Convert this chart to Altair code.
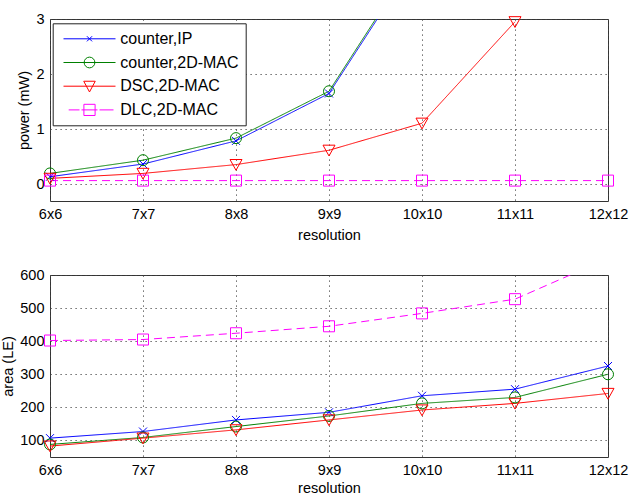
import json
import altair as alt
import pandas as pd

resolutions = ["6x6", "7x7", "8x8", "9x9", "10x10", "11x11", "12x12"]
series = ["counter,IP", "counter,2D-MAC", "DSC,2D-MAC", "DLC,2D-MAC"]
colors = ["#0000ff", "#008000", "#ff0000", "#ff00ff"]

power_counter_ip = [0.14, 0.37, 0.79, 1.65, 4.25, None, None]
power_counter_2dmac = [0.2, 0.44, 0.84, 1.69, 4.3, None, None]
power_dsc_2dmac = [0.11, 0.2, 0.36, 0.62, 1.11, 2.95, None]
power_dlc_2dmac = [0.07, 0.07, 0.07, 0.07, 0.07, 0.07, 0.07]

area_counter_ip = [107, 127, 162, 185, 235, 255, 325]
area_counter_2dmac = [88, 109, 142, 174, 212, 230, 300]
area_dsc_2dmac = [83, 107, 132, 162, 192, 212, 242]
area_dlc_2dmac = [402, 405, 424, 445, 484, 527, 650]

power = [power_counter_ip, power_counter_2dmac, power_dsc_2dmac, power_dlc_2dmac]
area = [area_counter_ip, area_counter_2dmac, area_dsc_2dmac, area_dlc_2dmac]

rows = []
for s, pw, ar in zip(series, power, area):
    for r, p, a in zip(resolutions, pw, ar):
        rows.append({"res": r, "series": s, "name": s, "power": p, "area": a})
df = pd.DataFrame(rows)

FONT = "Liberation Sans"

# plot marker shapes
marker_paths = [
    "M-1,-1L1,1M-1,1L1,-1",
    "circle",
    "M-1,-0.85L1,-0.85L0,0.95Z",
    "square",
]
marker_sizes = [64, 121, 144, 121]

# legend symbols (line + marker), units of 8 px
legend_paths = [
    "M-3.25,0H3.25M-0.32,-0.32L0.32,0.32M-0.32,0.32L0.32,-0.32",
    "M-3.25,0H3.25M-0.67,0A0.67,0.67 0 1,0 0.67,0A0.67,0.67 0 1,0 -0.67,0",
    "M-3.25,0H3.25M-0.72,-0.62L0.72,-0.62L0,0.72Z",
    "M-2.6,0H-1.25M-1,0H1M1.25,0H3M-0.7,-0.7H0.7V0.7H-0.7Z",
]

color_scale = alt.Scale(domain=series, range=colors)
shape_expr = f"{json.dumps(legend_paths)}[indexof({json.dumps(series)}, datum.value)]"


def panel(field, ytitle, ydomain, yvalues, ymax, with_legend, xtitlepad):
    x_enc = alt.X("res:N", sort=resolutions, scale=alt.Scale(padding=0),
                  axis=alt.Axis(title="resolution", labelAngle=0, titlePadding=xtitlepad))
    y_enc = alt.Y(f"{field}:Q", scale=alt.Scale(domain=ydomain, nice=False, zero=False),
                  axis=alt.Axis(title=ytitle, values=yvalues))
    base = alt.Chart(df)
    lines = base.mark_line(clip=True, strokeWidth=1).encode(
        x=x_enc, y=y_enc,
        color=alt.Color("series:N", scale=color_scale, legend=None),
        strokeDash=alt.StrokeDash("series:N",
                                  scale=alt.Scale(domain=series, range=[[1, 0], [1, 0], [1, 0], [8, 5]]),
                                  legend=None),
        detail="series:N",
    )
    layers = [lines]
    for s, c, shp, sz in zip(series, colors, marker_paths, marker_sizes):
        pts = base.transform_filter(
            f"datum.series == '{s}' && isValid(datum.{field}) && datum.{field} <= {ymax}"
        ).mark_point(shape=shp, size=sz, filled=False, color=c, strokeWidth=1, opacity=1).encode(
            x=x_enc, y=y_enc)
        layers.append(pts)
    if with_legend:
        leg = alt.Legend(title=None, orient="none", legendX=2.7, legendY=4.3,
                         strokeColor="#222", fillColor="white", padding=7,
                         symbolSize=256, symbolStrokeWidth=1, symbolOffset=21.3,
                         labelOffset=22.3, rowPadding=6.7, labelFontSize=16,
                         labelFont=FONT, labelColor="black", cornerRadius=0,
                         symbolFillColor="transparent",
                         symbolType={"expr": shape_expr})
        lg = base.transform_filter("datum.res == '6x6'").mark_point(
            clip=True, filled=False, size=256, strokeWidth=1, opacity=1).encode(
            x=x_enc, y=alt.value(-1000),
            stroke=alt.Stroke("name:N", sort=series, scale=alt.Scale(range=colors), legend=leg),
        )
        layers.append(lg)
    return alt.layer(*layers).properties(width=558, height=182)


top = panel("power", "power (mW)", [-0.3, 3], [0, 1, 2, 3], 3, True, 8)
bottom = panel("area", "area (LE)", [50, 600], [100, 200, 300, 400, 500, 600], 600, False, 5)

chart = alt.vconcat(top, bottom, spacing=23).properties(
    padding={"left": 0, "top": 10, "right": 0, "bottom": 0}
).configure_view(stroke="#333", strokeWidth=1).configure_axis(
    labelFont=FONT, labelFontSize=14.5, titleFont=FONT, titleFontSize=14.5,
    titleFontWeight="normal", labelColor="black", titleColor="black",
    domain=False, ticks=False, grid=True, gridDash=[1.2, 3.8], gridColor="#444",
    gridOpacity=1, labelPadding=6,
).configure_axisY(titlePadding=4)

chart.save("out.html", embed_options={"renderer": "svg", "actions": False})
